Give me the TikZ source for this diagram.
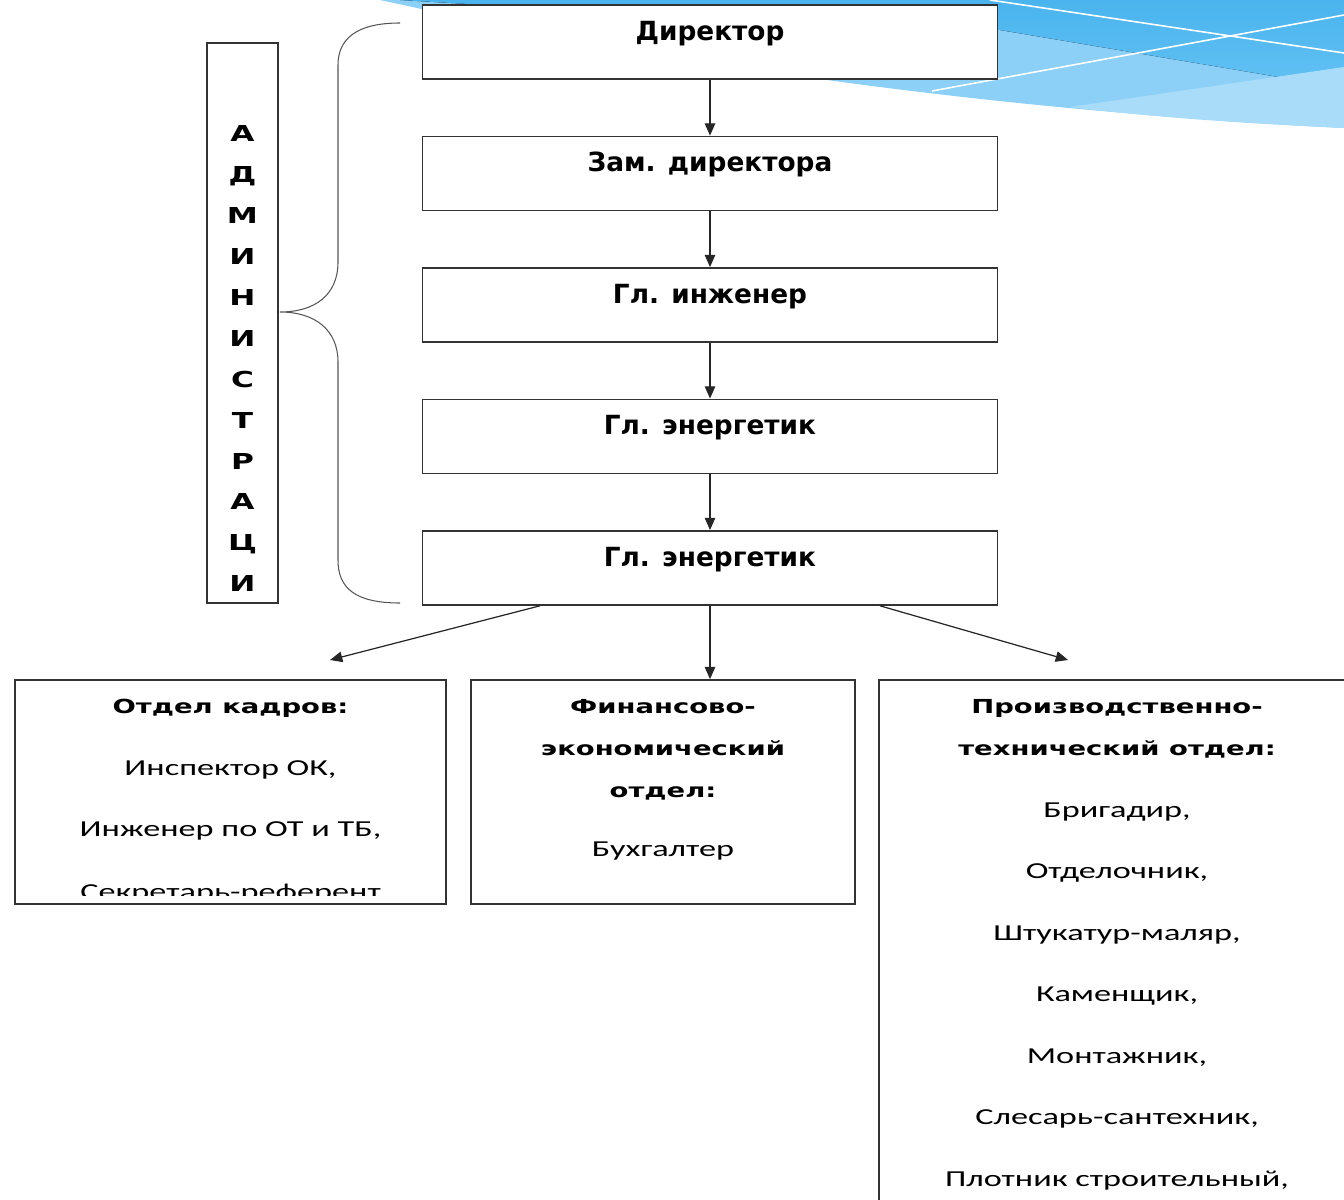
\documentclass[tikz,border=0pt]{standalone}
\usepackage{fontspec}
\usepackage{xcolor}
\usetikzlibrary{positioning,calc,arrows.meta}

\newfontfamily\postfont{DejaVu Sans}
\newfontfamily\deptheadfont[FakeStretch=1.42]{DejaVu Sans}
\newfontfamily\deptfont[FakeStretch=1.5]{Carlito}
\newcommand{\depthead}[1]{{\deptheadfont\bfseries\fontsize{11}{35}\selectfont #1}}

\definecolor{swooshdark}{HTML}{4AB4EE}
\definecolor{swooshmid}{HTML}{62C1F3}
\definecolor{swooshlight}{HTML}{8CD0F8}
\definecolor{swooshpale}{HTML}{A9DCF9}
\definecolor{bracegray}{HTML}{555555}

\tikzset{
  post/.style = {draw=black!80, line width=1pt, fill=white,
    minimum width=11.5cm, minimum height=1.48cm,
    text height=11pt, text depth=0.45cm,
    font=\postfont\bfseries\fontsize{15}{18}\selectfont},
  dept/.style = {draw=black!80, line width=1pt, fill=white, inner sep=0pt},
  depttext/.style = {inner sep=0pt, align=center,
    font=\deptfont\fontsize{13}{35}\selectfont},
  link/.style = {draw=black!85, line width=0.7pt,
    -{Triangle[length=7pt,width=6pt]}},
}

\begin{document}
\begin{tikzpicture}[x=0.02cm, y=-0.02cm]
  \useasboundingbox (0,0) rectangle (1344,1199);
  \clip (0,0) rectangle (1344,1199);

  % top right swoosh
  \fill[swooshlight] (380,0) .. controls (700,70) and (1000,110) .. (1344,128)
    -- (1344,0) -- cycle;
  \fill[top color=swooshdark, bottom color=swooshmid]
    (400,0) .. controls (650,15) and (850,22) .. (1000,30) -- (1344,88)
    -- (1344,0) -- cycle;
  \fill[swooshpale] (1070,107) -- (1344,67) -- (1344,128)
    .. controls (1250,124) and (1150,117) .. cycle;
  \draw[white, line width=0.9pt] (990,0) -- (1344,53);
  \draw[white, line width=0.9pt] (932,91) -- (1344,15);

  % administration chain
  \node[post] (dir) at (710,42) {Директор};
  \node[post, below=1.115cm of dir] (zam) {Зам. директора};
  \node[post, below=1.115cm of zam] (chiefeng) {Гл. инженер};
  \node[post, below=1.115cm of chiefeng] (energy) {Гл. энергетик};
  \node[post, below=1.115cm of energy] (energytwo) {Гл. энергетик};

  \draw[link] (dir) -- (zam);
  \draw[link] (zam) -- (chiefeng);
  \draw[link] (chiefeng) -- (energy);
  \draw[link] (energy) -- (energytwo);

  % vertical label and brace
  \node[dept, minimum width=1.42cm, minimum height=11.2cm] (admin) at (242.5,323) {};
  \node[below=1.66cm of admin.north, inner sep=0pt, align=center,
    font=\deptheadfont\bfseries\fontsize{12.5}{23.3}\selectfont] (adminword)
    {А\\Д\\М\\И\\Н\\И\\С\\Т\\Р\\А\\Ц\\И};

  \draw[bracegray, line width=0.6pt] (400,23) .. controls (355,23) and (338,40) .. (338,65)
    -- (338,262) .. controls (338,295) and (315,312) .. (280,312)
    .. controls (315,312) and (338,330) .. (338,362)
    -- (338,560) .. controls (338,588) and (355,603) .. (400,603);

  % departments
  \node[dept, minimum width=8.62cm, minimum height=4.48cm] (kadry) at (230.5,792) {};
  \node[dept, minimum width=7.68cm, minimum height=4.48cm] (fin) at (663,792) {};
  \node[dept, minimum width=9.52cm, minimum height=11cm] (prod) at (1117,955) {};

  \coordinate (kadryarrow) at (330,660);
  \coordinate (prodarrow) at (1068,660);
  \draw[link] ($(energytwo.south)+(-3.4cm,0)$) -- (kadryarrow);
  \draw[link] (energytwo.south) -- (energytwo.south |- fin.north);
  \draw[link] ($(energytwo.south)+(3.4cm,0)$) -- (prodarrow);

  \begin{scope}
    \clip ($(kadry.south west)+(0,0.18cm)$) rectangle (kadry.north east);
    \node[depttext, below=0.4cm of kadry.north] (kadrytext)
      {\depthead{Отдел кадров:}\\ Инспектор ОК,\\ Инженер по ОТ и ТБ,\\[0.5pt] Секретарь-референт};
  \end{scope}

  \node[depttext, below=0.4cm of fin.north] (fintext)
    {\depthead{Финансово-}\\[-11pt] \depthead{экономический}\\[-11pt]
     \depthead{отдел:}\\[-1.5pt] Бухгалтер};

  \node[depttext, below=0.4cm of prod.north] (prodtext)
    {\depthead{Производственно-}\\[-11pt] \depthead{технический отдел:}\\
     Бригадир,\\ Отделочник,\\ Штукатур-маляр,\\ Каменщик,\\ Монтажник,\\
     Слесарь-сантехник,\\ Плотник строительный,};
\end{tikzpicture}
\end{document}
